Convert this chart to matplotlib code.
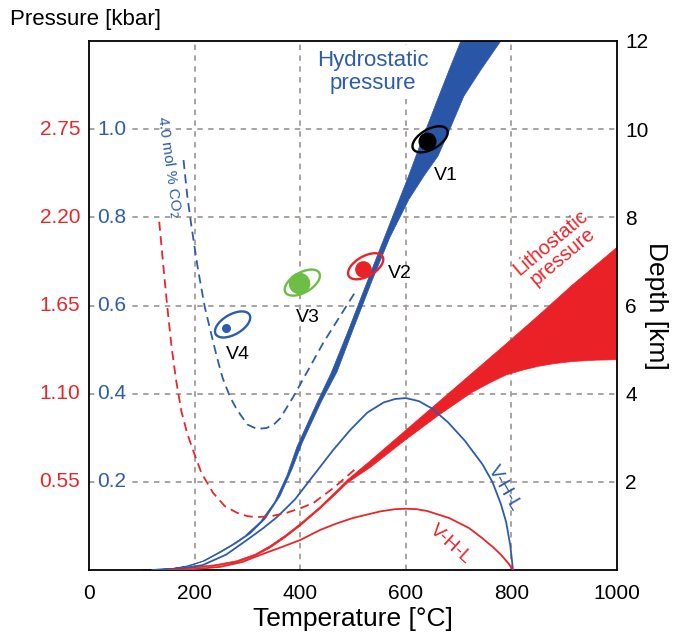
import numpy as np
import matplotlib
matplotlib.use('Agg')
import matplotlib.pyplot as plt
from matplotlib.patches import Ellipse
from matplotlib.transforms import ScaledTranslation, blended_transform_factory

plt.rcParams['font.family'] = ['Liberation Sans', 'DejaVu Sans']

# ---- data (temperature in degC, depth in km) ----
hydro_left_T = [120, 160, 185, 215, 244, 270, 295, 325, 352, 375, 394, 430, 459, 490, 512, 545,
                581, 604, 632, 661, 684, 705]
hydro_left_d = [0, 0.04, 0.09, 0.2, 0.39, 0.57, 0.77, 1.1, 1.55, 2.15, 2.8, 3.75, 4.48, 5.4, 6.08, 7.1,
                8.2, 8.9, 9.8, 10.7, 11.4, 12.02]
hydro_right_T = [124, 163, 190, 220, 251, 278, 305, 333, 362, 385, 404, 440, 470, 500, 537, 570,
                 606, 635, 661, 686, 710, 743, 781]
hydro_right_d = [0, 0.04, 0.09, 0.21, 0.41, 0.6, 0.82, 1.15, 1.68, 2.3, 2.89, 3.82, 4.5, 5.45, 6.59, 7.55,
                 8.41, 8.95, 9.39, 10.07, 10.75, 11.36, 12.02]

litho_up_T = [100, 185, 240, 280, 315, 343, 372, 400, 438, 470, 490, 533, 596, 661, 724, 789,
              850, 914, 1000]
litho_up_d = [0, 0.05, 0.12, 0.21, 0.36, 0.55, 0.79, 1.05, 1.44, 1.81, 2.05, 2.48, 3.13, 3.8, 4.45, 5.12,
              5.76, 6.45, 7.32]
litho_lo_T = [100, 185, 240, 280, 315, 343, 372, 400, 438, 470, 490, 533, 596, 661, 724, 760, 789,
              820, 851, 880, 916, 960, 1000]
litho_lo_d = [0, 0.03, 0.09, 0.17, 0.32, 0.5, 0.74, 1.0, 1.39, 1.75, 1.98, 2.33, 2.92, 3.5, 4.02, 4.25, 4.42,
              4.53, 4.62, 4.68, 4.73, 4.76, 4.77]

vhl_blue_T = [120, 170, 215, 260, 299, 330, 356, 390, 419, 463, 495, 527, 558, 580, 600, 625, 650, 680,
              712, 745, 764, 780, 790, 798, 803]
vhl_blue_d = [0, 0.03, 0.11, 0.35, 0.68, 0.95, 1.2, 1.6, 2.05, 2.73, 3.18, 3.57, 3.8, 3.88, 3.9, 3.83,
              3.66, 3.35, 2.93, 2.4, 2.0, 1.5, 1.09, 0.55, 0]
vhl_red_T = [152, 200, 248, 290, 324, 365, 400, 438, 470, 500, 552, 580, 600, 620, 640, 682, 720,
             745, 765, 780, 795, 803]
vhl_red_d = [0, 0.02, 0.07, 0.18, 0.34, 0.52, 0.68, 0.91, 1.06, 1.18, 1.33, 1.38, 1.39, 1.38, 1.34, 1.18, 0.95,
             0.72, 0.52, 0.35, 0.14, 0]

co2_blue_T = [179, 186, 194, 206, 219, 231, 242, 253, 267, 280, 300, 318, 336, 350, 362, 387, 444, 505]
co2_blue_d = [9.3, 8.5, 7.8, 6.85, 5.98, 5.38, 4.84, 4.36, 3.93, 3.64, 3.3, 3.2, 3.22, 3.3, 3.44, 3.93,
              5.16, 6.32]
co2_red_T = [133, 140, 148, 156, 165, 175, 186, 196, 213, 235, 257, 280, 300, 318, 345, 375, 400, 425,
             465, 509]
co2_red_d = [7.9, 7.0, 6.0, 5.1, 4.3, 3.6, 3.1, 2.75, 2.2, 1.75, 1.45, 1.3, 1.22, 1.2, 1.22, 1.3, 1.4,
             1.52, 1.88, 2.34]

samples = ['V1', 'V2', 'V3', 'V4']
ell_T = [646, 524, 404, 272]
ell_d = [9.77, 6.89, 6.52, 5.57]
dot_T = [640, 518, 398, 259]
dot_d = [9.73, 6.82, 6.52, 5.5]
lab_T = [676, 589, 415, 282]
lab_d = [8.95, 6.73, 5.73, 4.89]
sample_colors = ['black', '#ea2228', '#6dbe45', '#2c5caa']
dot_sizes = [13, 12, 15.5, 6.5]

depth_ticks = [2, 4, 6, 8, 10, 12]
p_hydro = ['0.2', '0.4', '0.6', '0.8', '1.0']
p_litho = ['0.55', '1.10', '1.65', '2.20', '2.75']

blue = '#2c5caa'
red = '#e8262a'
gridc = '#a39c98'

fig = plt.figure(figsize=(6.77, 6.34), dpi=100)
ax = fig.add_axes([89/677, 1 - 570/634, 528/677, 529/634])
ax.set_xlim(0, 1000)
ax.set_ylim(0, 12)

# grid
for t in [200, 400, 600, 800]:
    ax.axvline(t, color=gridc, lw=1.3, ls=(0, (3, 3)), zorder=0)
for d in [2, 4, 6, 8, 10]:
    ax.axhline(d, color=gridc, lw=1.3, ls=(0, (3, 3)), zorder=0)

# bands
ax.fill(np.r_[litho_up_T, litho_lo_T[::-1]], np.r_[litho_up_d, litho_lo_d[::-1]],
        color='#ea2227', lw=0.5, ec='#ea2227', zorder=2)
ax.fill(np.r_[hydro_left_T, hydro_right_T[::-1]], np.r_[hydro_left_d, hydro_right_d[::-1]],
        color='#2a56a8', lw=0.5, ec='#2a56a8', zorder=2)

# phase boundaries
ax.plot(vhl_blue_T, vhl_blue_d, color=blue, lw=1.3, zorder=3)
ax.plot(vhl_red_T, vhl_red_d, color=red, lw=1.3, zorder=3)
ax.plot(co2_blue_T, co2_blue_d, color=blue, lw=1.3, ls=(0, (5, 3)), zorder=3)
ax.plot(co2_red_T, co2_red_d, color=red, lw=1.3, ls=(0, (5, 3)), zorder=3)

# samples
for i in range(len(samples)):
    tr = fig.dpi_scale_trans + ScaledTranslation(ell_T[i], ell_d[i], ax.transData)
    ax.add_patch(Ellipse((0, 0), 0.39, 0.20, angle=30, transform=tr, fill=False,
                         ec=sample_colors[i], lw=1.7, zorder=5))
    ax.plot(dot_T[i], dot_d[i], 'o', ms=dot_sizes[i], color=sample_colors[i], mec='none', zorder=6)
    ax.text(lab_T[i], lab_d[i], samples[i], fontsize=14, ha='center', va='center', zorder=6)

# annotations
ax.text(537, 11.3, 'Hydrostatic\npressure', color=blue, fontsize=16, ha='center', va='center',
        linespacing=1.1, bbox=dict(fc='white', ec='none', pad=4), zorder=4)
ax.text(886, 7.27, 'Lithostatic\npressure', color=red, fontsize=14.5, ha='center', va='center',
        rotation=40, linespacing=1.0, zorder=4)
ax.text(152, 9.16, '4.0 mol % CO$_2$', color=blue, fontsize=11, ha='center', va='center',
        rotation=-82, rotation_mode='anchor', zorder=4)
ax.text(786, 1.85, 'V-H-L', color=blue, fontsize=14, ha='center', va='center',
        rotation=-60, rotation_mode='anchor', zorder=4)
ax.text(684, 0.59, 'V-H-L', color=red, fontsize=14, ha='center', va='center',
        rotation=-42, rotation_mode='anchor', zorder=4)

# axes
ax.set_xticks([0, 200, 400, 600, 800, 1000])
ax.tick_params(axis='x', length=0, labelsize=15, pad=10)
ax.yaxis.tick_right()
ax.set_yticks(depth_ticks)
ax.tick_params(axis='y', length=0, labelsize=15, pad=6)
ax.yaxis.set_label_position('right')
ax.set_ylabel('Depth [km]', fontsize=19, rotation=-90, labelpad=14)
ax.set_xlabel('Temperature [°C]', fontsize=19, labelpad=3)
for s in ax.spines.values():
    s.set_linewidth(1.3)

trans = blended_transform_factory(ax.transAxes, ax.transData)
for d, ph, pl in zip(depth_ticks[:-1], p_hydro, p_litho):
    ax.text(0.015, d, ph, color=blue, fontsize=15, ha='left', va='center', transform=trans,
            bbox=dict(fc='white', ec='none', pad=1), zorder=4)
    ax.text(-0.017, d, pl, color=red, fontsize=15, ha='right', va='center', transform=trans)

fig.text(10/677, 1 - 19/634, 'Pressure [kbar]', fontsize=16, ha='left', va='center')

fig.savefig('out.png', dpi=100)
